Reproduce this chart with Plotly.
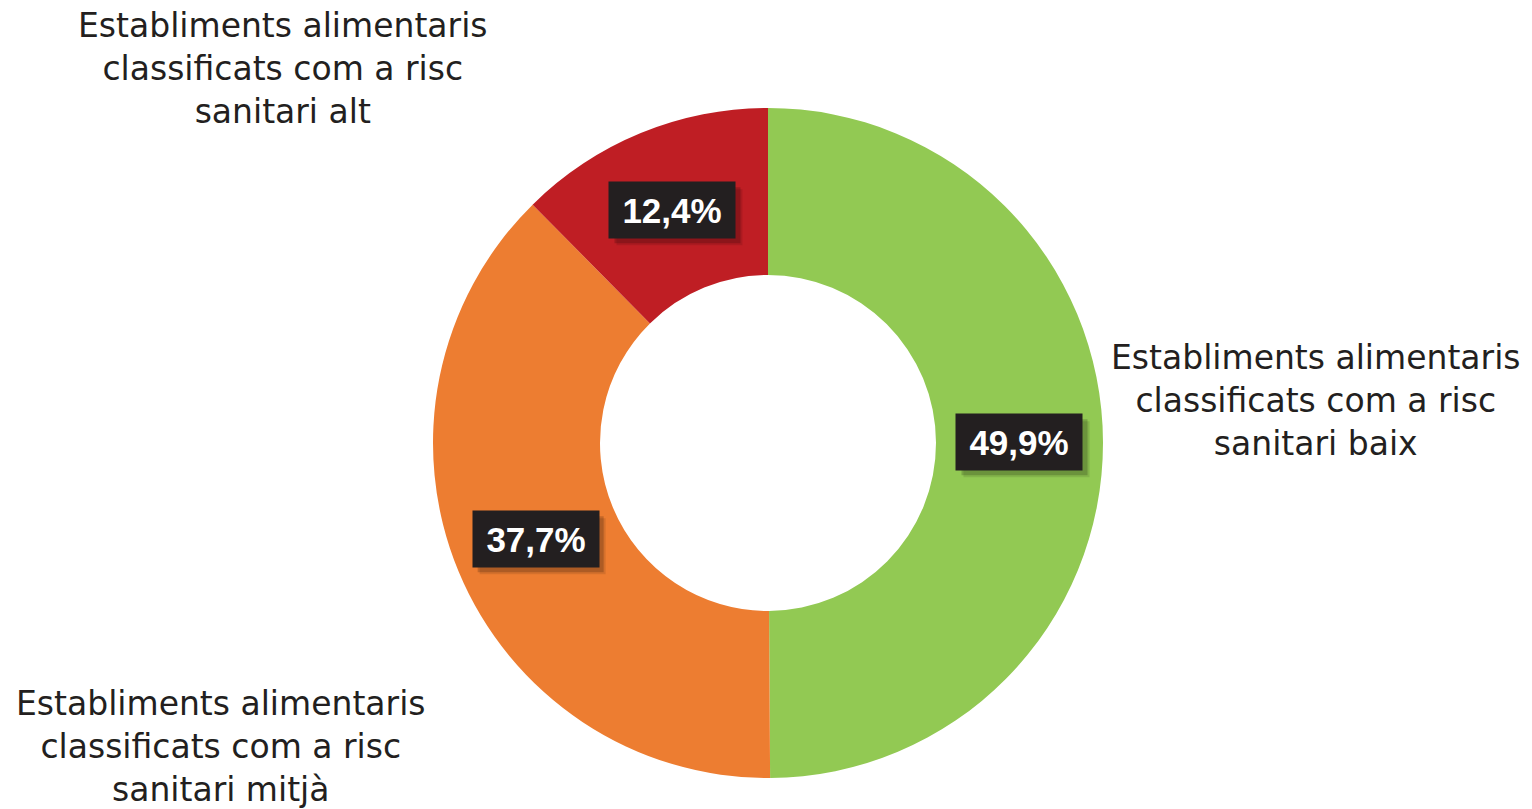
import math
import plotly.graph_objects as go

categories = [
    "Establiments alimentaris<br>classificats com a risc<br>sanitari baix",
    "Establiments alimentaris<br>classificats com a risc<br>sanitari mitjà",
    "Establiments alimentaris<br>classificats com a risc<br>sanitari alt",
]
values = [49.9, 37.7, 12.4]
value_labels = ["49,9%", "37,7%", "12,4%"]
colors = ["#92c953", "#ed7d31", "#bf1e24"]

W, H = 1532, 809
cx, cy = 768, 443          # donut centre in pixels
r_out, r_in = 335, 168
box_w, box_h = 126, 56

fig = go.Figure()
fig.add_trace(go.Pie(
    labels=categories,
    values=values,
    hole=r_in / r_out,
    sort=False,
    direction="clockwise",
    rotation=0,
    marker=dict(colors=colors, line=dict(width=0)),
    textinfo="none",
    hoverinfo="label+percent",
    showlegend=False,
    domain=dict(x=[(cx - r_out) / W, (cx + r_out) / W],
                y=[(H - cy - r_out) / H, (H - cy + r_out) / H]),
))

# percentage boxes at the middle of each slice
total = sum(values)
cum = 0
r_mid = (r_out + r_in) / 2
for v, txt in zip(values, value_labels):
    ang = (cum + v / 2) / total * 2 * math.pi
    cum += v
    px_ = cx + r_mid * math.sin(ang)
    py_ = cy - r_mid * math.cos(ang)
    # soft drop shadow
    for k, a in ((7, 0.10), (5, 0.18)):
        fig.add_shape(
            type="rect", xref="paper", yref="paper", layer="above",
            x0=(px_ - box_w / 2 + k) / W, x1=(px_ + box_w / 2 + k) / W,
            y0=1 - (py_ + box_h / 2 + k) / H, y1=1 - (py_ - box_h / 2 + k) / H,
            fillcolor=f"rgba(0,0,0,{a})", line=dict(width=0),
        )
    fig.add_annotation(
        x=px_ / W, y=1 - py_ / H, xref="paper", yref="paper",
        xanchor="center", yanchor="middle",
        text=txt, showarrow=False,
        width=box_w, height=box_h, borderpad=0,
        bgcolor="#231f20",
        font=dict(family="Liberation Sans", size=35, color="white",
                  weight="bold"),
    )

# category labels
label_pos = [(1316, 401), (221, 746), (283, 68)]
for lab, (lx, ly) in zip(categories, label_pos):
    fig.add_annotation(
        x=lx / W, y=1 - ly / H, xref="paper", yref="paper",
        xanchor="center", yanchor="middle",
        text=lab, showarrow=False, align="center",
        font=dict(family="DejaVu Sans", size=33, color="#231f20"),
    )

fig.update_layout(
    width=W, height=H,
    margin=dict(l=0, r=0, t=0, b=0),
    paper_bgcolor="white",
    plot_bgcolor="white",
)

fig.write_html("out.html", config={"displayModeBar": False},
               post_script="document.body.style.margin='0';")
